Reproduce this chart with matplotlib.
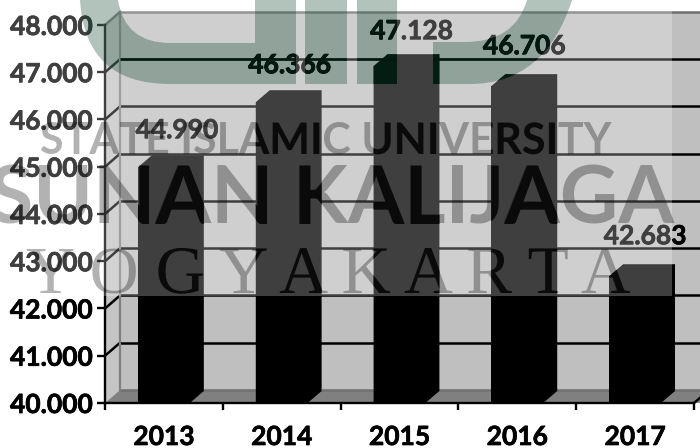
import matplotlib
matplotlib.use("Agg")
import matplotlib.pyplot as plt
import matplotlib.patheffects as pe
from matplotlib.patches import Polygon, PathPatch, Rectangle
from matplotlib.path import Path
from matplotlib.transforms import Affine2D, IdentityTransform

years = ["2013", "2014", "2015", "2016", "2017"]
values = [44990, 46366, 47128, 46706, 42683]
value_labels = ["44.990", "46.366", "47.128", "46.706", "42.683"]
y_ticks = [40000, 41000, 42000, 43000, 44000, 45000, 46000, 47000, 48000]
y_labels = ["40.000", "41.000", "42.000", "43.000", "44.000", "45.000", "46.000", "47.000", "48.000"]
label_dx = [13, 8, 12, 7, 10]
label_dy = [37, 37, 35, 40, 40]

W, H, DPI = 700, 448, 100
FONT = "Lato"
FS = 19
def bold(col="black"):
    return [pe.withStroke(linewidth=0.5, foreground=col)]

fig = plt.figure(figsize=(W / DPI, H / DPI), dpi=DPI, facecolor="white")
ax = fig.add_axes([105 / W, (H - 403) / H, 589 / W, 378 / H])
ax.set_xlim(-0.5, 4.5)
ax.set_ylim(40000, 48000)
ax.patch.set_visible(False)
for s in ["top", "right"]:
    ax.spines[s].set_visible(False)
for s in ["left", "bottom"]:
    ax.spines[s].set_linewidth(1.7)
    ax.spines[s].set_zorder(6)

depth = ax.transData + Affine2D().translate(15, 13)
ident = IdentityTransform()
def disp(x, y, dx=0, dy=0):
    p = ax.transData.transform((x, y))
    return (p[0] + dx, p[1] + dy)

# 3D walls
fig_clip = dict(clip_on=False)
ax.add_patch(Rectangle((-0.5, 40000), 5.2, 8000, transform=depth, fc="#bfbfbf", ec="none", zorder=1, **fig_clip))
ax.add_patch(Polygon([disp(-0.5, 40000), disp(-0.5, 48000), disp(-0.5, 48000, 15, 13), disp(-0.5, 40000, 15, 13)],
                     transform=ident, fc="#c4c4c4", ec="none", zorder=1, **fig_clip))
ax.add_patch(Polygon([disp(-0.5, 40000), disp(-0.5, 40000, 15, 13), disp(4.7, 40000, 15, 13), disp(4.7, 40000)],
                     transform=ident, fc="#808080", ec="none", zorder=1.5, **fig_clip))

# gridlines at the back plus their connectors on the side wall
for v in y_ticks:
    col = "black" if 40000 < v < 48000 else "#707070"
    ax.plot([-0.5, 4.7], [v, v], transform=depth, color=col, lw=1.8, zorder=2, solid_capstyle="butt", **fig_clip)
    a, b = disp(-0.5, v), disp(-0.5, v, 15, 13)
    if v > 40000:
        ax.plot([a[0], b[0]], [a[1], b[1]], transform=ident, color="black" if v < 48000 else "#707070",
                lw=1.8, zorder=2, **fig_clip)
ax.plot([-0.5, -0.5], [40000, 48000], transform=depth, color="#808080", lw=1.6, zorder=2.5, **fig_clip)
a, b = disp(4.5, 40000), disp(4.5, 40000, 8, 7)
ax.plot([a[0], b[0]], [a[1], b[1]], transform=ident, color="black", lw=1.7, zorder=2.5, **fig_clip)

# bars: front face from the axes scale, plus extruded silhouette
BW = 0.44
DX, DY = 14, 12
rects = ax.bar(range(5), [v - 40000 for v in values], bottom=40000, width=BW, color="black", zorder=3)
verts, codes = [], []
for r, v in zip(rects, values):
    x0, x1 = r.get_x(), r.get_x() + r.get_width()
    poly = [disp(x0, 40000), disp(x0, v), disp(x0, v, DX, DY), disp(x1, v, DX, DY), disp(x1, 40000, DX, DY), disp(x1, 40000)]
    ax.add_patch(Polygon(poly, transform=ident, fc="black", ec="none", zorder=3, **fig_clip))
    verts += poly + [poly[0]]
    codes += [Path.MOVETO] + [Path.LINETO] * 5 + [Path.CLOSEPOLY]
bar_path = Path(verts, codes)

ax.set_xticks([-0.5, 0.5, 1.5, 2.5, 3.5, 4.5])
ax.set_xticklabels([""] * 6)
ax.tick_params(axis="x", length=5, width=1.7, color="black")
for i, y in enumerate(years):
    ax.annotate(y, (i, 40000), xytext=(0, -34), textcoords="offset pixels",
                ha="center", va="center", fontsize=FS, fontweight="bold", family=FONT, color="black",
                annotation_clip=False, path_effects=bold())
ax.set_yticks(y_ticks)
ax.set_yticklabels(y_labels, fontsize=FS, fontweight="bold", family=FONT, color="black", path_effects=bold())
ax.tick_params(axis="y", length=5.5, width=1.7, pad=3.5, color="black")

for i, v in enumerate(values):
    ax.annotate(value_labels[i], (i, v), xytext=(label_dx[i], label_dy[i]), textcoords="offset pixels",
                ha="center", va="center", fontsize=FS, fontweight="bold", family=FONT, color="black", zorder=7,
                annotation_clip=False, path_effects=bold())

# overlay: washed-out upper area, logo and watermark text
ov = fig.add_axes([0, 0, 1, 1])
ov.set_xlim(0, W)
ov.set_ylim(H, 0)
ov.axis("off")
ov.patch.set_visible(False)
ov.add_patch(Rectangle((0, 0), 672, 296, fc="white", ec="none", alpha=0.25, zorder=1))

M, L, C, Z = Path.MOVETO, Path.LINETO, Path.CURVE3, Path.CLOSEPOLY
logo_v = [
    (80, 0), (85, 84), (170, 84), (296, 84), (296, 0), (255, 0), (255, 43), (170, 43), (125, 43), (118, 0), (80, 0),
    (305, 0), (347, 0), (347, 84), (305, 84), (305, 0),
    (357, 0), (397, 0), (397, 84), (357, 84), (357, 0),
    (433, 42), (465, 42), (515, 42), (527, 0), (572, 0), (545, 84), (470, 84), (433, 84), (433, 42),
]
logo_c = [
    M, C, C, L, L, L, L, L, C, C, Z,
    M, L, L, L, Z,
    M, L, L, L, Z,
    M, L, C, C, L, C, C, L, Z,
]
logo_path = Path(logo_v, logo_c)
logo = PathPatch(logo_path, fc="#003a22", ec="none", alpha=0.3, zorder=2)
ov.add_patch(logo)
dark = PathPatch(logo_path, fc="#001a10", ec="none", alpha=0.9, zorder=3)
ov.add_patch(dark)
dark.set_clip_path(bar_path, ident)

# lines and value labels stay dark where they cross the logo
for v in y_ticks[1:-1]:
    ln, = ov.plot([-0.5, 4.7], [v, v], transform=depth, color="#04180f", lw=1.8, zorder=3, solid_capstyle="butt")
    ln.set_clip_path(logo_path, ov.transData)
for i, v in enumerate(values):
    p = disp(i, v, label_dx[i], label_dy[i])
    t = ov.text(p[0], p[1], value_labels[i], transform=ident, ha="center", va="center", fontsize=FS,
                fontweight="bold", family=FONT, color="#04180f", zorder=3.5, path_effects=bold("#04180f"))
    t.set_clip_on(True)
    t.set_clip_path(logo_path, ov.transData)

marks = [("STATE ISLAMIC UNIVERSITY", 326, 154, 31, "Lato", "bold"),
         ("SUNAN KALIJAGA", 332, 224, 58, "Lato", "bold"),
         ("Y O G Y A K A R T A", 328, 293, 49, "Liberation Serif", "normal")]
for txt, x, y, fs, fam, wt in marks:
    ov.text(x, y, txt, ha="center", va="baseline", family=fam, fontsize=fs, fontweight=wt, color="black",
            alpha=0.3, zorder=4)
    t = ov.text(x, y, txt, ha="center", va="baseline", family=fam, fontsize=fs, fontweight=wt, color="#0a0a0a",
                zorder=5, path_effects=[pe.Normal()])
    t.set_clip_on(True)
    t.set_clip_path(bar_path, ident)

fig.savefig("out.png", dpi=DPI)
